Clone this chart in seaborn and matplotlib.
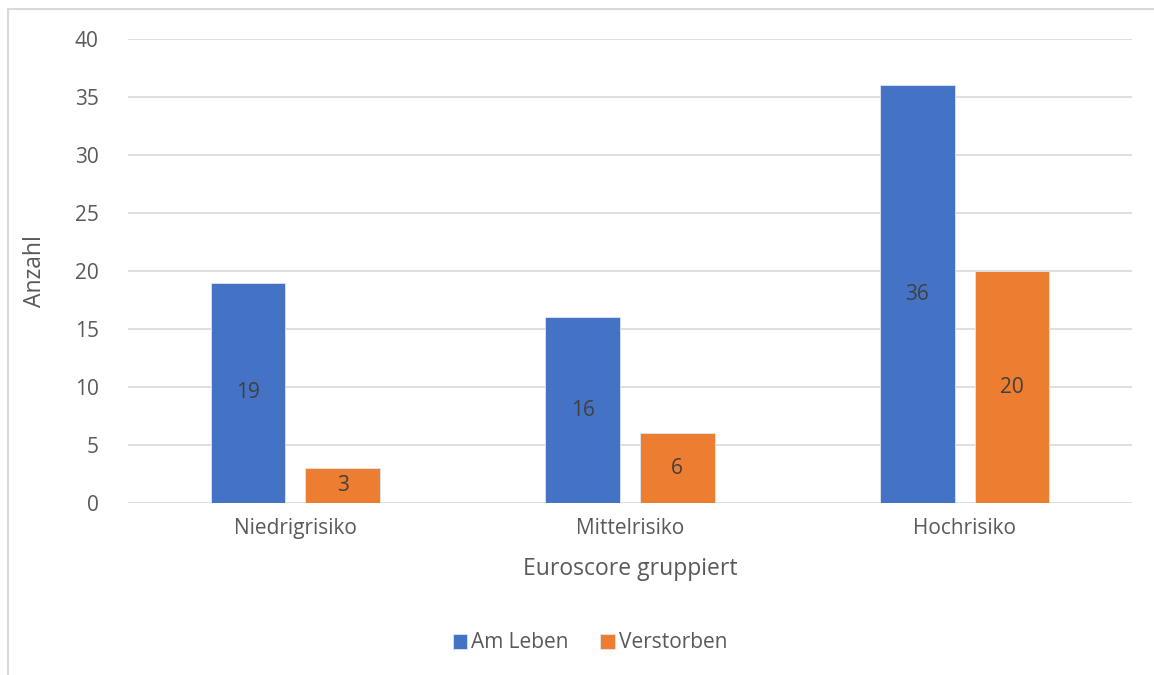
import matplotlib.pyplot as plt
import seaborn as sns
import pandas as pd
from matplotlib.patches import Rectangle

# Data
categories = ['Niedrigrisiko', 'Mittelrisiko', 'Hochrisiko']
am_leben = [19, 16, 36]
verstorben = [3, 6, 20]
series_names = ['Am Leben', 'Verstorben']

df = pd.DataFrame({
    'Gruppe': categories * 2,
    'Status': [series_names[0]] * 3 + [series_names[1]] * 3,
    'Anzahl': am_leben + verstorben,
})

sns.set_theme(style='white')
plt.rcParams['font.family'] = ['Open Sans', 'DejaVu Sans']
text_col = '#595959'
grid_col = '#D9D9D9'

fig = plt.figure(figsize=(11.54, 6.75), dpi=100)
ax = fig.add_axes([0.1109, 0.2548, 0.8700, 0.6874])

palette = {'Am Leben': '#4472C4', 'Verstorben': '#ED7D31'}
sns.barplot(data=df, x='Gruppe', y='Anzahl', hue='Status', order=categories,
            hue_order=series_names, palette=palette, width=0.565, gap=0.21,
            saturation=1, edgecolor='#dfe6f3', linewidth=0.6, ax=ax, zorder=3)

# data labels in the middle of each bar
for cont in ax.containers:
    ax.bar_label(cont, label_type='center', fontsize=15, color='#404040')

ax.set_ylim(0, 40)
ax.set_yticks(range(0, 41, 5))
ax.set_xlim(-0.5, 2.5)
ax.yaxis.grid(True, color=grid_col, linewidth=1.2, zorder=0)
ax.set_axisbelow(True)
for s in ax.spines.values():
    s.set_visible(False)
ax.tick_params(axis='both', length=0, labelsize=15, labelcolor=text_col)
ax.tick_params(axis='y', pad=21)
ax.tick_params(axis='x', pad=11)
ax.set_ylabel('Anzahl', fontsize=16.5, color=text_col, labelpad=20)
ax.set_xlabel('Euroscore gruppiert', fontsize=16.5, color=text_col, labelpad=13)

ax.legend(loc='center', bbox_to_anchor=(590 / 1154, 1 - 643 / 675),
          bbox_transform=fig.transFigure, ncol=2, frameon=False, fontsize=15,
          handlelength=0.7, handleheight=0.7, handletextpad=0.2,
          columnspacing=1.5, labelcolor=text_col)

# chart border (clipped at right and bottom like the source)
fig.patches.append(Rectangle((8 / 1154, -0.1), 1.2, 1 - 9 / 675 + 0.1,
                             transform=fig.transFigure, fill=False,
                             edgecolor=grid_col, linewidth=1.5))

fig.savefig('out.png', dpi=100)
